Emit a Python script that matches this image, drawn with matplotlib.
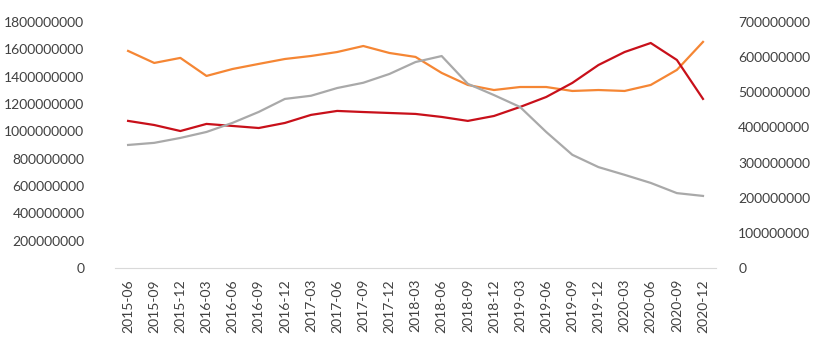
import matplotlib
matplotlib.use("Agg")
import matplotlib.pyplot as plt
from matplotlib.ticker import FuncFormatter

plt.rcParams['font.family'] = ['Lato', 'DejaVu Sans']

# quarters on the x axis
quarters = ["2015-06", "2015-09", "2015-12", "2016-03", "2016-06", "2016-09",
            "2016-12", "2017-03", "2017-06", "2017-09", "2017-12", "2018-03",
            "2018-06", "2018-09", "2018-12", "2019-03", "2019-06", "2019-09",
            "2019-12", "2020-03", "2020-06", "2020-09", "2020-12"]

# left axis series
orange_vals = [1.588e9, 1.500e9, 1.537e9, 1.405e9, 1.456e9, 1.493e9, 1.529e9,
               1.551e9, 1.580e9, 1.624e9, 1.573e9, 1.544e9, 1.427e9, 1.339e9,
               1.302e9, 1.324e9, 1.324e9, 1.295e9, 1.302e9, 1.295e9, 1.339e9,
               1.449e9, 1.654e9]
red_vals = [1.076e9, 1.046e9, 1.002e9, 1.054e9, 1.039e9, 1.024e9, 1.061e9,
            1.120e9, 1.149e9, 1.141e9, 1.134e9, 1.127e9, 1.105e9, 1.076e9,
            1.112e9, 1.178e9, 1.251e9, 1.354e9, 1.485e9, 1.580e9, 1.646e9,
            1.522e9, 1.237e9]

# right axis series
gray_vals = [3.50e8, 3.56e8, 3.70e8, 3.87e8, 4.13e8, 4.44e8, 4.81e8, 4.90e8,
             5.12e8, 5.27e8, 5.52e8, 5.86e8, 6.03e8, 5.24e8, 4.92e8, 4.58e8,
             3.87e8, 3.22e8, 2.87e8, 2.65e8, 2.42e8, 2.13e8, 2.05e8]

x = list(range(len(quarters)))
txt = "#404040"

fig = plt.figure(figsize=(8.24, 3.54), dpi=100)
ax = fig.add_axes([0.1396, 0.243, 0.7294, 0.695])
ax2 = ax.twinx()

ax.plot(x, orange_vals, color="#F58634", lw=1.6)
ax.plot(x, red_vals, color="#C8101A", lw=1.6)
ax2.plot(x, gray_vals, color="#A9A9A9", lw=1.6)

ax.set_xlim(-0.5, len(quarters) - 0.5)
ax.set_ylim(0, 1.8e9)
ax.set_yticks([i * 2e8 for i in range(10)])
ax2.set_ylim(0, 7e8)
ax2.set_yticks([i * 1e8 for i in range(8)])

fmt = FuncFormatter(lambda v, p: f"{int(round(v))}")
ax.yaxis.set_major_formatter(fmt)
ax2.yaxis.set_major_formatter(fmt)

ax.set_xticks(x)
ax.set_xticklabels(quarters, rotation=90)

for a in (ax, ax2):
    for s in a.spines.values():
        s.set_visible(False)
    a.tick_params(length=0, labelsize=10, colors=txt)
ax.spines["bottom"].set_visible(True)
ax.spines["bottom"].set_color("#D9D9D9")
ax.tick_params(axis="y", pad=22)
ax.tick_params(axis="x", pad=8)
ax2.tick_params(axis="y", pad=16)

fig.savefig("out.png", dpi=100)
